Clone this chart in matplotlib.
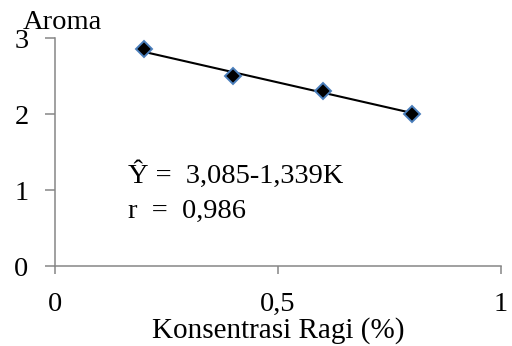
import matplotlib
matplotlib.use("Agg")
import matplotlib.pyplot as plt
import numpy as np

plt.rcParams['font.family'] = ['Liberation Serif', 'DejaVu Serif']

# Yeast concentration (%) and aroma score
konsentrasi = [0.2, 0.4, 0.6, 0.8]
aroma = [2.85, 2.5, 2.3, 2.0]

# Linear regression: Y = a + bK
intercept = 3.085
slope = -1.339
r_value = 0.986

x_ticks = [0, 0.5, 1]
x_tick_labels = ["0", "0,5", "1"]
y_ticks = [0, 1, 2, 3]
y_tick_labels = ["0", "1", "2", "3"]

W, H = 512, 346
fig = plt.figure(figsize=(W / 100, H / 100), dpi=100)
ax = fig.add_axes([55 / W, (H - 266) / H, (501 - 55) / W, (266 - 38) / H])

axis_color = "#868686"
fs = 20.5

# fitted line over the measured range
xf = np.array([min(konsentrasi), max(konsentrasi)])
ax.plot(xf, intercept + slope * xf, color="black", lw=1.5, zorder=2)

ax.plot(konsentrasi, aroma, linestyle="none", marker="D", markersize=8.5,
        markerfacecolor="black", markeredgecolor="#4A7EBB",
        markeredgewidth=1.4, zorder=3)

ax.set_xlim(0, 1)
ax.set_ylim(0, 3)
ax.set_xticks(x_ticks)
ax.set_xticklabels(x_tick_labels, fontsize=fs)
ax.set_yticks(y_ticks)
ax.set_yticklabels(y_tick_labels, fontsize=fs)

for side in ("top", "right"):
    ax.spines[side].set_visible(False)
for side in ("left", "bottom"):
    ax.spines[side].set_color(axis_color)
    ax.spines[side].set_linewidth(1.1)

ax.tick_params(axis="x", direction="out", length=6, width=1.1,
               color=axis_color, pad=13)
ax.tick_params(axis="y", direction="out", length=7, width=1.1,
               color=axis_color, pad=12)

fig.text(278 / W, (H - 338) / H, "Konsentrasi Ragi (%)", fontsize=21,
         ha="center", va="baseline")
fig.text(23 / W, (H - 29) / H, "Aroma", fontsize=fs, ha="left",
         va="baseline")

eq = "Ŷ =  " + f"{intercept:.3f}".replace(".", ",") + f"-{abs(slope):.3f}".replace(".", ",") + "K"
rt = "r  =  " + f"{r_value:.3f}".replace(".", ",")
fig.text(128 / W, (H - 183) / H, eq, fontsize=fs, ha="left", va="baseline")
fig.text(128 / W, (H - 218) / H, rt, fontsize=fs, ha="left", va="baseline")

fig.savefig("out.png", dpi=100)
